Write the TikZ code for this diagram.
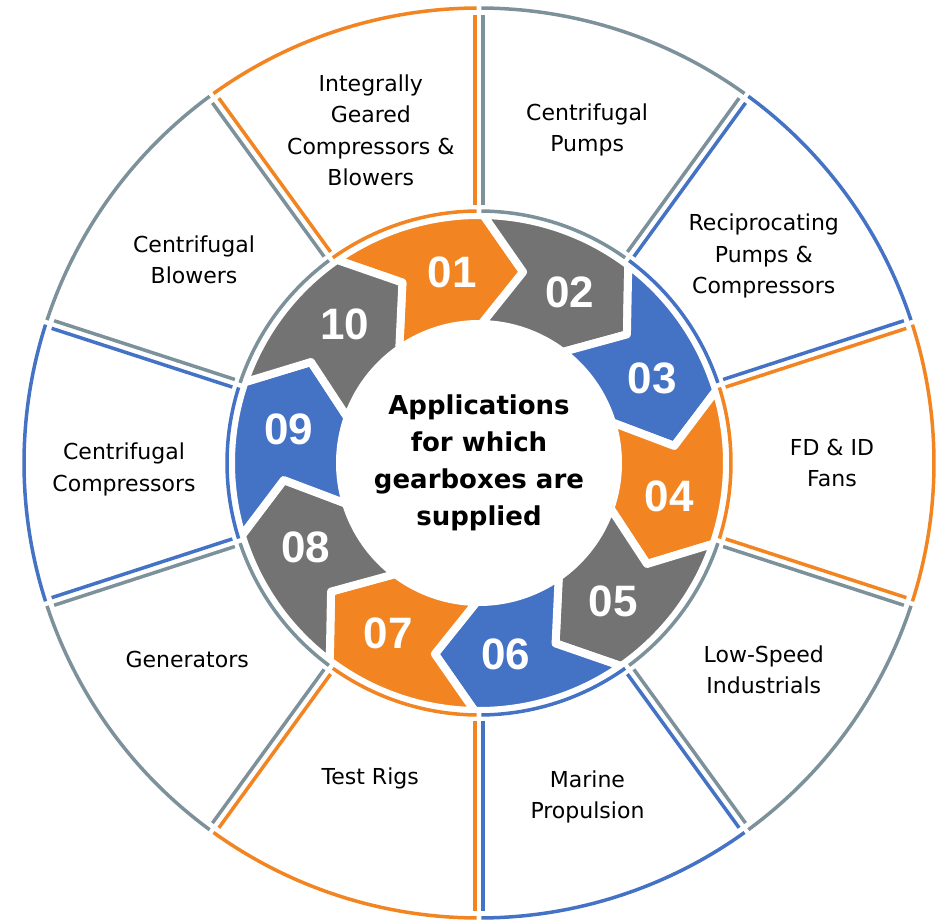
\documentclass[tikz,border=0pt]{standalone}
\usepackage{fontspec}
\setmainfont{DejaVu Sans}
\newfontfamily\numfont{Liberation Sans}
\usepackage{tikz}
\definecolor{appOrange}{RGB}{242,132,33}
\definecolor{appGrey}{RGB}{115,115,115}
\definecolor{appBlue}{RGB}{68,114,196}
\definecolor{appSlate}{RGB}{125,145,155}

% outer ring sector: #1 = ccw edge angle, #2 = colour
\newcommand{\ringsector}[2]{%
  \draw[secline,#2] (#1-0.3:455) arc[start angle=#1-0.3,end angle=#1-35.7,radius=455];
  \draw[secline,#2] (#1-0.55:252) arc[start angle=#1-0.55,end angle=#1-35.45,radius=252];
  \draw[secline,#2,rotate=#1] (258,-4) -- (448,-4);
  \draw[secline,#2,rotate=#1-36] (258,4) -- (448,4);
}
% chevron of the inner cycle: #1 = back angle, #2 = colour
\newcommand{\chevron}[2]{%
  \filldraw[chev,fill=#2] (#1:248) arc[start angle=#1,end angle=#1-36,radius=248]
    -- (#1-48:196) -- (#1-36:139) arc[start angle=#1-36,end angle=#1,radius=139]
    -- (#1-12:196) -- cycle;
}

\begin{document}
\begin{tikzpicture}[
    x=1pt,y=1pt,
    secline/.style={line width=3.5},
    chev/.style={draw=white,line width=8,line join=round},
    num/.style={text=white,font=\numfont\fontsize{44}{44}\selectfont\bfseries},
    app/.style={align=center,font=\fontsize{22}{31.5}\selectfont},
    hub/.style={align=center,font=\fontsize{26}{37}\selectfont\bfseries}
  ]
    \useasboundingbox (-479,-460) rectangle (465,463);

    % inner cycle
    \chevron{125}{appOrange}
    \chevron{89}{appGrey}
    \chevron{53}{appBlue}
    \chevron{17}{appOrange}
    \chevron{-19}{appGrey}
    \chevron{-55}{appBlue}
    \chevron{-91}{appOrange}
    \chevron{-127}{appGrey}
    \chevron{-163}{appBlue}
    \chevron{-199}{appGrey}

    % outer ring
    \ringsector{126}{appOrange}
    \ringsector{90}{appSlate}
    \ringsector{54}{appBlue}
    \ringsector{18}{appOrange}
    \ringsector{-18}{appSlate}
    \ringsector{-54}{appBlue}
    \ringsector{-90}{appOrange}
    \ringsector{-126}{appSlate}
    \ringsector{-162}{appBlue}
    \ringsector{-198}{appSlate}

    \node[num] (n01) at (98:193) {01};
    \node[num] (n02) at (62:193) {02};
    \node[num] (n03) at (26:193) {03};
    \node[num] (n04) at (-10:193) {04};
    \node[num] (n05) at (-46:193) {05};
    \node[num] (n06) at (-82:193) {06};
    \node[num] (n07) at (-118:193) {07};
    \node[num] (n08) at (-154:193) {08};
    \node[num] (n09) at (-190:193) {09};
    \node[num] (n10) at (-226:193) {10};

    \node[hub] (apps) at (0,0) {Applications\\for which\\gearboxes are\\supplied};

    \node[app] (igc)    at (108:350) {Integrally\\Geared\\Compressors \&\\Blowers};
    \node[app] (cpump)  at (72:350)  {Centrifugal\\Pumps};
    \node[app] (recip)  at (36:352)  {Reciprocating\\Pumps \&\\Compressors};
    \node[app] (fans)   at (0:353)   {FD \& ID\\Fans};
    \node[app] (lowspd) at (-36:352) {Low-Speed\\Industrials};
    \node[app] (marine) at (-72:351) {Marine\\Propulsion};
    \node[app] (rigs)   at (-109:334) {Test Rigs};
    \node[app] (gens)   at (-146:352) {Generators};
    \node[app] (ccomp)  at (181:355) {Centrifugal\\Compressors};
    \node[app] (cblow)  at (144.5:350) {Centrifugal\\Blowers};
  \end{tikzpicture}
\end{document}
